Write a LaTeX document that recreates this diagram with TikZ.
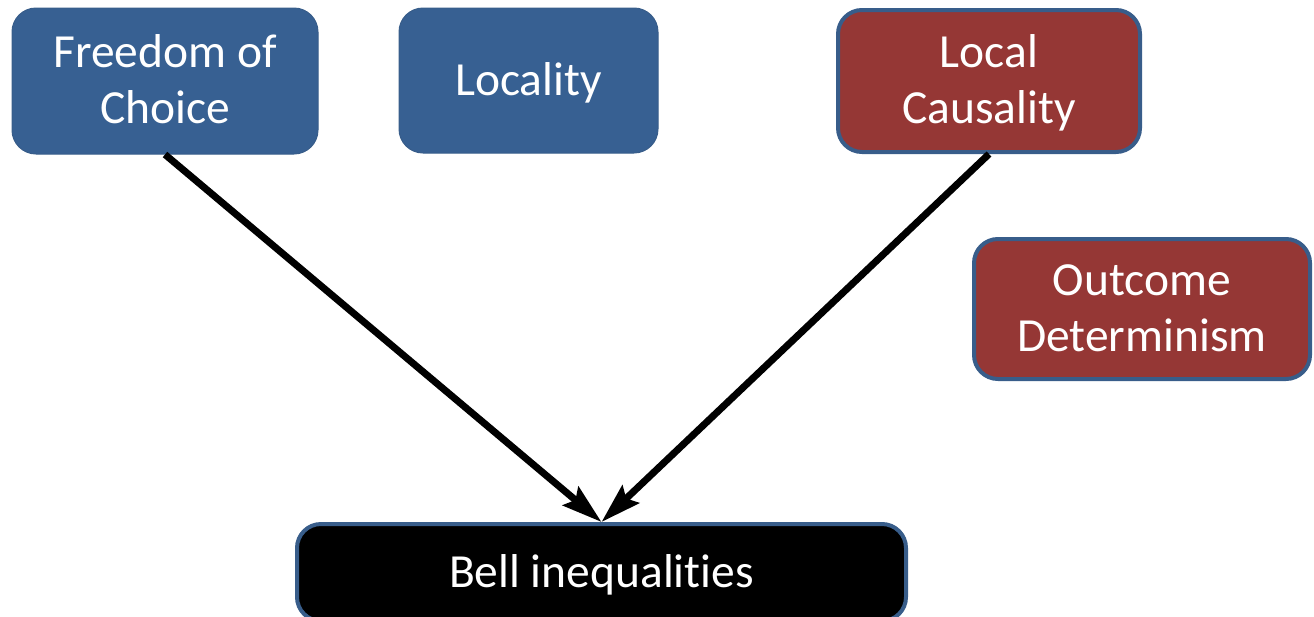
\documentclass[tikz,border=0pt]{standalone}
\usepackage{fontspec}
\setmainfont{Carlito}[Ligatures=NoCommon]
\usetikzlibrary{arrows.meta}
\definecolor{boxblue}{RGB}{55,96,146}
\definecolor{boxred}{RGB}{149,55,53}
\definecolor{edgeblue}{RGB}{56,93,138}
\tikzset{
  card/.style={rounded corners=24pt, align=center, text=white,
    font=\fontsize{47.5}{56}\selectfont, inner sep=0pt,
    text height=42.5pt, text depth=13.5pt},
  twoline/.style={text height=98.5pt},
  bluecard/.style={card, fill=boxblue, draw=edgeblue, line width=1pt},
  redcard/.style={card, fill=boxred, draw=edgeblue, line width=4pt},
  blackcard/.style={card, fill=black, draw=edgeblue, line width=4pt},
  implies/.style={line width=7pt, -{Stealth[length=40pt,width=24pt,inset=6pt]}}
}
\begin{document}
\begin{tikzpicture}[x=1pt,y=-1pt]
  \useasboundingbox (0,0) rectangle (1314,616);
  \clip (0,0) rectangle (1314,616);
  \node[bluecard, twoline, minimum width=306pt, minimum height=146pt] (fc) at (165,81) {Freedom of\\Choice};
  \node[bluecard, minimum width=259pt, minimum height=145pt] (loc) at (528.5,80.5) {Locality};
  \node[redcard, twoline, minimum width=302pt, minimum height=142pt] (lc) at (989,81) {Local\\Causality};
  \node[redcard, twoline, minimum width=336pt, minimum height=140pt] (od) at (1142,309) {Outcome\\Determinism};
  \node[blackcard, minimum width=609pt, minimum height=97pt] (bell) at (601.5,572.5) {Bell inequalities};
  \draw[implies] (fc.south) -- (bell.north);
  \draw[implies] (lc.south) -- (bell.north);
\end{tikzpicture}
\end{document}
